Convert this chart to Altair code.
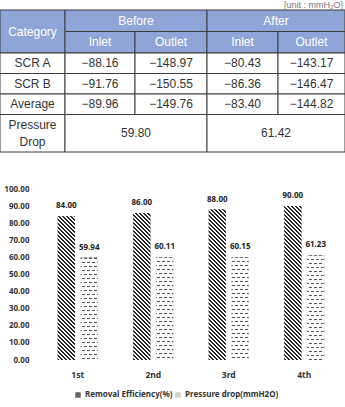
import math

import altair as alt
import pandas as pd

# ---- table contents ----
row_labels = ["SCR A", "SCR B", "Average"]
before_inlet = [-88.16, -91.76, -89.96]
before_outlet = [-148.97, -150.55, -149.76]
after_inlet = [-80.43, -86.36, -83.40]
after_outlet = [-143.17, -146.47, -144.82]
pressure_drop_table = [59.80, 61.42]
group_headers = ["Before", "After"]
sub_headers = ["Inlet", "Outlet"]
unit_note = "[unit : mmH\u2082O]"

# ---- chart contents ----
rounds = ["1st", "2nd", "3rd", "4th"]
removal_efficiency = [84.00, 86.00, 88.00, 90.00]
pressure_drop_mm = [59.94, 60.11, 60.15, 61.23]
series = ["Removal Efficiency(%)", "Pressure drop(mmH2O)"]

# ---- page layout (pixels) ----
PLOT_LEFT, PLOT_TOP = 40, 189
PLOT_W, PLOT_H = 302, 171
PAGE_W, PAGE_H = 345, 407
Y_MAX = 100
X_PAD = 0.47      # gap between rounds
OFF_PAD = 0.25    # gap between the two bars of a round

COL_W = [65, 70, 72, 71, 67]
ROW_H = [21.5, 21.5, 20.5, 20.5, 20.5, 37.5]
TABLE_TOP = 10
LINE_H = 17


def edges(start, sizes):
    out = [start]
    for s in sizes:
        out.append(out[-1] + s)
    return out


col_e = edges(0, COL_W)
row_e = edges(TABLE_TOP, ROW_H)


def fmt(v):
    return f"{v:.2f}".replace("-", "\u2212")


cells = []


def cell(text, c0, c1, r0, r1, part):
    lines = text.count("\n") + 1
    cells.append({
        "x0": col_e[c0], "x1": col_e[c1],
        "y0": row_e[r0], "y1": row_e[r1],
        "xc": (col_e[c0] + col_e[c1]) / 2,
        "yc": (row_e[r0] + row_e[r1]) / 2 - (lines - 1) * LINE_H / 2,
        "text": text, "part": part,
    })


# header rows
cell("Category", 0, 1, 0, 2, "header")
for g, name in enumerate(group_headers):
    cell(name, 1 + 2 * g, 3 + 2 * g, 0, 1, "header")
    for s, sub in enumerate(sub_headers):
        c = 1 + 2 * g + s
        cell(sub, c, c + 1, 1, 2, "header")

# body rows
columns = [before_inlet, before_outlet, after_inlet, after_outlet]
for r, label in enumerate(row_labels):
    cell(label, 0, 1, 2 + r, 3 + r, "body")
    for c, col in enumerate(columns):
        cell(fmt(col[r]), 1 + c, 2 + c, 2 + r, 3 + r, "body")

last = 2 + len(row_labels)
cell("Pressure\nDrop", 0, 1, last, last + 1, "body")
for g, v in enumerate(pressure_drop_table):
    cell(fmt(v), 1 + 2 * g, 3 + 2 * g, last, last + 1, "body")

cells_df = pd.DataFrame(cells)

# table scales work in page pixels; the table sits above the bar plot area
tx = alt.Scale(domain=[PLOT_LEFT, PLOT_LEFT + PLOT_W])
ty = alt.Scale(domain=[PLOT_TOP, PLOT_TOP + PLOT_H], reverse=True)

table_rects = alt.Chart(cells_df).mark_rect(
    stroke="#3c3c3c", strokeWidth=1
).encode(
    x=alt.X("x0:Q", scale=tx, axis=None),
    x2="x1:Q",
    y=alt.Y("y0:Q", scale=ty, axis=None),
    y2="y1:Q",
    fill=alt.Fill("part:N", scale=alt.Scale(domain=["header", "body"],
                                            range=["#8fa5d8", "#ffffff"]), legend=None),
)

table_text = alt.Chart(cells_df).mark_text(
    font="Liberation Sans", fontSize=12, lineBreak="\n", lineHeight=LINE_H,
    baseline="middle", align="center",
).encode(
    x=alt.X("xc:Q", scale=tx, axis=None),
    y=alt.Y("yc:Q", scale=ty, axis=None),
    text="text:N",
    color=alt.Color("part:N", scale=alt.Scale(domain=["header", "body"],
                                              range=["#ffffff", "#333333"]), legend=None),
)

# unit note, top right above the table
unit_text = alt.Chart(alt.Data(values=[{"t": unit_note}])).mark_text(
    font="Liberation Sans", fontSize=9, color="#777777", align="right",
    baseline="alphabetic",
).encode(x=alt.value(PAGE_W - 2 - PLOT_LEFT), y=alt.value(7.5 - PLOT_TOP), text="t:N")

table = alt.layer(table_rects, table_text, unit_text)


# ---- bar textures (gradients in each bar's bounding-box units) ----
def stripes(p1, p2, n, duty, ink, paper):
    stops = []
    for i in range(n):
        a, b, c = i / n, (i + duty) / n, (i + 1) / n
        stops += [
            {"offset": a, "color": ink},
            {"offset": b, "color": ink},
            {"offset": b, "color": paper},
            {"offset": c, "color": paper},
        ]
    return {"gradient": "linear", "x1": p1[0], "y1": p1[1],
            "x2": p2[0], "y2": p2[1], "stops": stops}


step = PLOT_W / len(rounds)
band = step * (1 - X_PAD)
bar_w = band / (2 - OFF_PAD) * (1 - OFF_PAD)


def hatch_fill(h, w=bar_w, period=4.0):
    # 45-degree "\" lines, one every `period` px horizontally
    n = math.ceil((w + h) / period)
    c = n * period / (w * w + h * h)
    return stripes((0, 1), (w * c, 1 - h * c), n, 0.5, "#262626", "#ffffff")


def dash_row_fill(h, period=4.0):
    n = math.ceil(h / period)
    return stripes((0, 0), (0, n * period / h), n, 0.28, "#555555", "#ffffff")


def dash_cut_fill(h, w=bar_w, period=5.0, drop=4.0):
    # white cuts along (period/2, drop) so that each row is offset by half a dash
    a, b = drop, period / 2
    span = a * w + b * h
    n = math.ceil(span / (a * period))
    c = n * a * period / ((a * w) ** 2 + (b * h) ** 2)
    return stripes((0, 1), (a * w * c, 1 - b * h * c), n, 0.4,
                   "#ffffff", "rgba(255,255,255,0)")


bars_df = pd.DataFrame({
    "round": rounds * 2,
    "series": [series[0]] * len(rounds) + [series[1]] * len(rounds),
    "value": removal_efficiency + pressure_drop_mm,
})

FONT = "Noto Sans"

base = alt.Chart(bars_df).encode(
    x=alt.X("round:N", sort=rounds, title=None,
            scale=alt.Scale(paddingInner=X_PAD, paddingOuter=X_PAD / 2),
            axis=alt.Axis(domain=False, ticks=False, labelPadding=10, labelAngle=0,
                          labelFont=FONT, labelFontSize=8.5, labelFontWeight="bold",
                          labelColor="#333333", grid=False)),
    xOffset=alt.XOffset("series:N", sort=series,
                        scale=alt.Scale(paddingInner=OFF_PAD, paddingOuter=0)),
    y=alt.Y("value:Q", title=None, scale=alt.Scale(domain=[0, Y_MAX]),
            axis=alt.Axis(values=list(range(0, 101, 10)), format=".2f",
                          domain=False, ticks=False, labelPadding=11,
                          labelFont=FONT, labelFontSize=8, labelFontWeight="bold",
                          labelColor="#333333", gridColor="#d9d9d9", gridWidth=1)),
)

bar_base = base.mark_bar().encode(
    fill=alt.Fill("series:N", sort=series,
                  scale=alt.Scale(domain=series, range=["#666666", "#d0d0d0"]),
                  legend=alt.Legend(title=None, orient="none", legendX=34, legendY=202,
                                    direction="horizontal", symbolType="square",
                                    symbolSize=30, symbolStrokeWidth=0,
                                    labelFont=FONT, labelFontSize=8,
                                    labelFontWeight="bold", labelColor="#333333",
                                    columnPadding=1, labelOffset=3))
)

# one textured layer per bar, sized from that bar's own value
texture_layers = []
for r, v in zip(rounds, removal_efficiency):
    h = v * PLOT_H / Y_MAX
    sel = (alt.datum.round == r) & (alt.datum.series == series[0])
    texture_layers.append(base.transform_filter(sel).mark_bar(fill=hatch_fill(h)))
for r, v in zip(rounds, pressure_drop_mm):
    h = v * PLOT_H / Y_MAX
    sel = (alt.datum.round == r) & (alt.datum.series == series[1])
    texture_layers.append(base.transform_filter(sel).mark_bar(fill=dash_row_fill(h)))
    texture_layers.append(base.transform_filter(sel).mark_bar(fill=dash_cut_fill(h)))

labels = base.mark_text(
    dy=-10, font=FONT, fontSize=8, fontWeight="bold", color="#222222"
).encode(text=alt.Text("value:Q", format=".2f"))

bars = alt.layer(bar_base, *texture_layers, labels)

chart = alt.layer(table, bars).resolve_scale(
    x="independent", y="independent", fill="independent", color="independent"
).properties(
    width=PLOT_W, height=PLOT_H, autosize="none",
    padding={"left": PLOT_LEFT, "top": PLOT_TOP,
             "right": PAGE_W - PLOT_LEFT - PLOT_W,
             "bottom": PAGE_H - PLOT_TOP - PLOT_H},
    background="#ffffff",
).configure_view(stroke=None)

chart.save("out.html", embed_options={"renderer": "svg", "actions": False})
